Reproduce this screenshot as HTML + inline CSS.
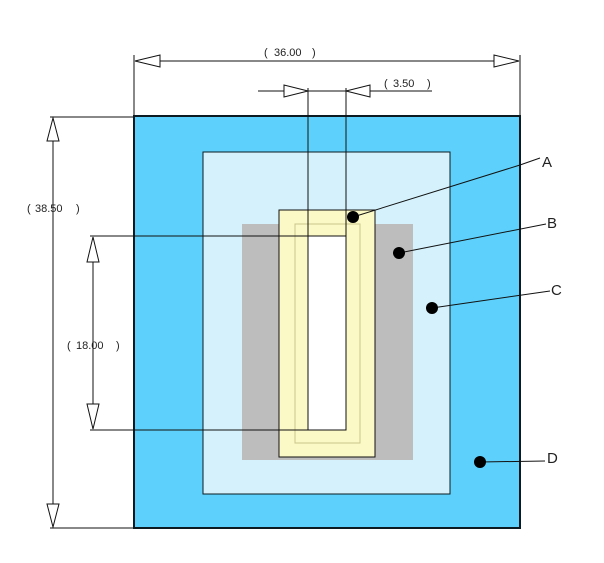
<!DOCTYPE html>
<html><head><meta charset="utf-8"><style>html,body{margin:0;padding:0;background:#fff}svg{display:block}text{font-family:"Liberation Sans",sans-serif;fill:#222}</style></head>
<body>
<svg width="604" height="563" viewBox="0 0 604 563" xmlns="http://www.w3.org/2000/svg">
<rect x="134" y="116" width="386" height="412" fill="#5dd1fb" stroke="#0c1a22" stroke-width="2"/>
<rect x="203" y="152" width="247" height="342" fill="#d5f2fc" stroke="#0c1a22" stroke-width="1"/>
<rect x="242" y="224" width="171" height="236" fill="#bdbdbd"/>
<rect x="279" y="210" width="96" height="247" fill="#fbf9c6" stroke="#111" stroke-width="1"/>
<rect x="295" y="224" width="65" height="219" fill="none" stroke="#c9c58c" stroke-width="1"/>
<rect x="308" y="236" width="38" height="194" fill="#fff" stroke="#111" stroke-width="1"/>
<g stroke="#111" stroke-width="1" fill="none">
<line x1="134" y1="55" x2="134" y2="115"/><line x1="520" y1="55" x2="520" y2="115"/>
<line x1="135" y1="61" x2="519" y2="61"/>
<polygon points="135,61 160,55 160,67" fill="#fff"/><polygon points="519,61 494,55 494,67" fill="#fff"/>
<line x1="308" y1="88" x2="308" y2="236"/><line x1="346" y1="88" x2="346" y2="236"/>
<line x1="258" y1="91" x2="432" y2="91"/>
<polygon points="308,91 284,85 284,97" fill="#fff"/><polygon points="346,91 370,85 370,97" fill="#fff"/>
<line x1="50" y1="117" x2="133" y2="117"/><line x1="50" y1="528" x2="133" y2="528"/>
<line x1="53" y1="118" x2="53" y2="527"/>
<polygon points="53,118 47,141 59,141" fill="#fff"/><polygon points="53,527 47,504 59,504" fill="#fff"/>
<line x1="90" y1="236" x2="308" y2="236"/><line x1="90" y1="430" x2="308" y2="430"/>
<line x1="93" y1="237" x2="93" y2="429"/>
<polygon points="93,237 87,262 99,262" fill="#fff"/><polygon points="93,429 87,404 99,404" fill="#fff"/>
<polyline points="353,217 520,165 540,158"/>
<polyline points="399,253 546,224"/>
<polyline points="432,308 550,291"/>
<polyline points="480,462 545,461"/>
</g>
<g fill="#000">
<circle cx="353" cy="217" r="6"/><circle cx="399" cy="253" r="6"/><circle cx="432" cy="308" r="6"/><circle cx="480" cy="462" r="6"/>
</g>
<text x="264" y="56" font-size="11">(</text><text x="274" y="56" font-size="11">36.00</text><text x="312" y="56" font-size="11">)</text>
<text x="384" y="87" font-size="11">(</text><text x="393" y="87" font-size="11">3.50</text><text x="427" y="87" font-size="11">)</text>
<text x="27" y="212" font-size="11">(</text><text x="35" y="212" font-size="11">38.50</text><text x="76" y="212" font-size="11">)</text>
<text x="67" y="349" font-size="11">(</text><text x="76" y="349" font-size="11">18.00</text><text x="116" y="349" font-size="11">)</text>
<text x="542" y="167" font-size="15">A</text>
<text x="547" y="228" font-size="15">B</text>
<text x="551" y="295" font-size="15">C</text>
<text x="547" y="463" font-size="15">D</text>
</svg>
</body></html>
